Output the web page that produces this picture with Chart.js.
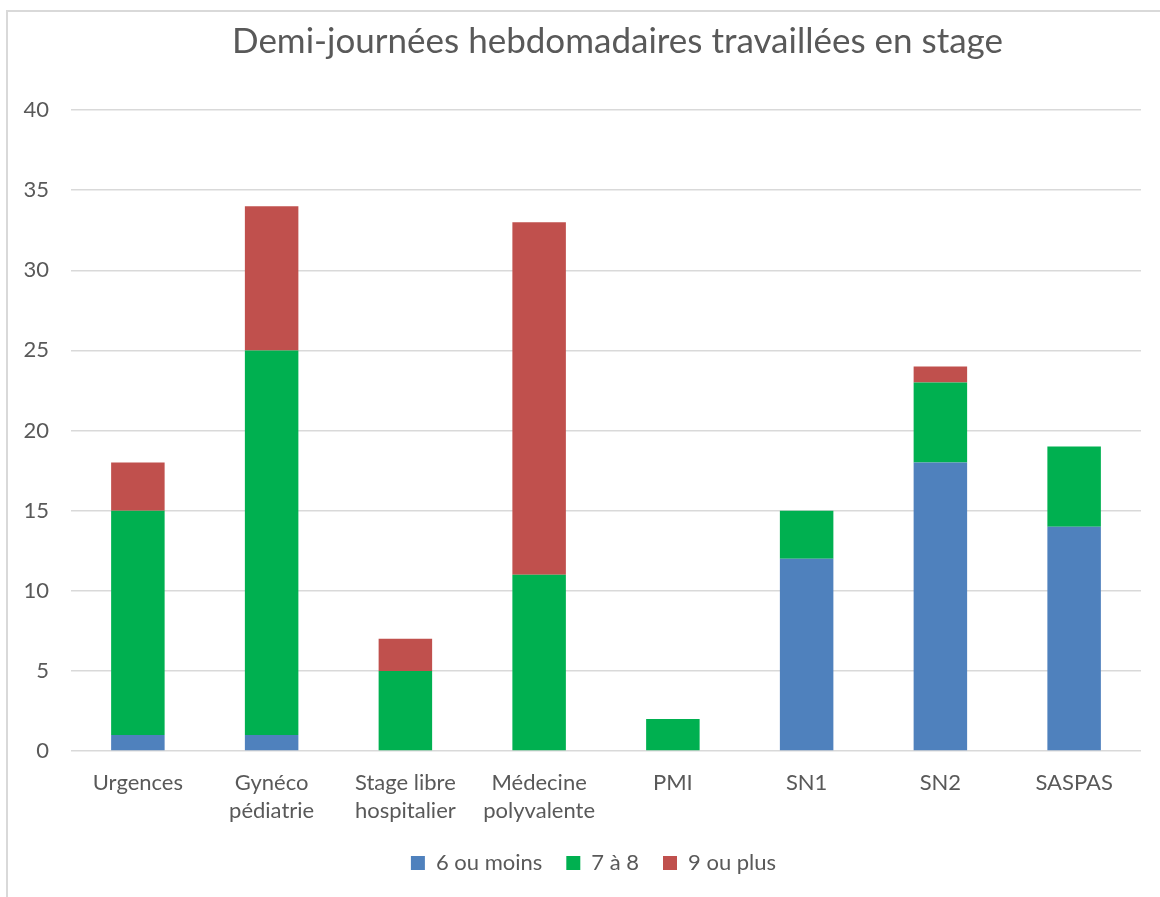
<!DOCTYPE html>
<html>
<head>
<meta charset="utf-8">
<script src="https://cdn.jsdelivr.net/npm/chart.js@4"></script>
<style>
  html, body { margin: 0; padding: 0; background: #fff; }
  #frame { position: absolute; left: 6px; top: 10px; width: 1200px; height: 950px;
           border-left: 2px solid #d9d9d9; border-top: 2px solid #d9d9d9; }
  #wrap { position: absolute; left: 0; top: 0; width: 1160px; height: 897px; }
</style>
</head>
<body>
<div id="frame"></div>
<div id="wrap"><canvas id="chart"></canvas></div>
<script>
const categories = ['Urgences', ['Gynéco', 'pédiatrie'], ['Stage libre', 'hospitalier'],
  ['Médecine', 'polyvalente'], 'PMI', 'SN1', 'SN2', 'SASPAS'];
const sixOuMoins = [1, 1, 0, 0, 0, 12, 18, 14];
const septAHuit = [14, 24, 5, 11, 2, 3, 5, 5];
const neufOuPlus = [3, 9, 2, 22, 0, 0, 1, 0];
const yTicks = [0, 5, 10, 15, 20, 25, 30, 35, 40];

const textColor = '#595959';
const font = 'Lato, "Open Sans", sans-serif';

// title and legend sit a bit right of the canvas centre in the original
const shiftBoxes = {
  id: 'shiftBoxes',
  afterLayout(chart) {
    chart.titleBlock.left += 47;
    chart.titleBlock.right += 47;
    chart.legend.left += 23;
    chart.legend.right += 23;
  }
};

const ctx = document.getElementById('chart').getContext('2d');
new Chart(ctx, {
  type: 'bar',
  data: {
    labels: categories,
    datasets: [
      { label: '6 ou moins', data: sixOuMoins, backgroundColor: '#4f81bd' },
      { label: '7 à 8', data: septAHuit, backgroundColor: '#00b050' },
      { label: '9 ou plus', data: neufOuPlus, backgroundColor: '#c0504d' }
    ]
  },
  options: {
    responsive: true,
    maintainAspectRatio: false,
    animation: false,
    layout: { padding: { left: 0, right: 19, top: 0, bottom: 13 } },
    datasets: { bar: { barPercentage: 0.4, categoryPercentage: 1 } },
    plugins: {
      title: {
        display: true,
        text: 'Demi-journées hebdomadaires travaillées en stage',
        color: textColor,
        font: { family: font, size: 35, weight: 'normal' },
        padding: { top: 21, bottom: 47 }
      },
      legend: {
        position: 'bottom',
        labels: {
          color: textColor,
          font: { family: font, size: 22 },
          boxWidth: 14, boxHeight: 14, padding: 24
        }
      },
      tooltip: { enabled: false }
    },
    scales: {
      x: {
        stacked: true,
        grid: { display: false },
        border: { display: false },
        ticks: { color: textColor, font: { family: font, size: 22, lineHeight: 1.27 }, padding: 10, maxRotation: 0 },
        afterFit: s => { s.height = 77; }
      },
      y: {
        stacked: true,
        min: 0, max: 40,
        afterBuildTicks: s => { s.ticks = yTicks.map(v => ({ value: v })); },
        grid: { color: '#d9d9d9', lineWidth: 1.5, drawTicks: false },
        border: { display: false },
        ticks: { color: textColor, font: { family: font, size: 22 }, padding: 22 },
        afterFit: s => { s.width = 71; }
      }
    }
  },
  plugins: [shiftBoxes]
});
</script>
</body>
</html>
